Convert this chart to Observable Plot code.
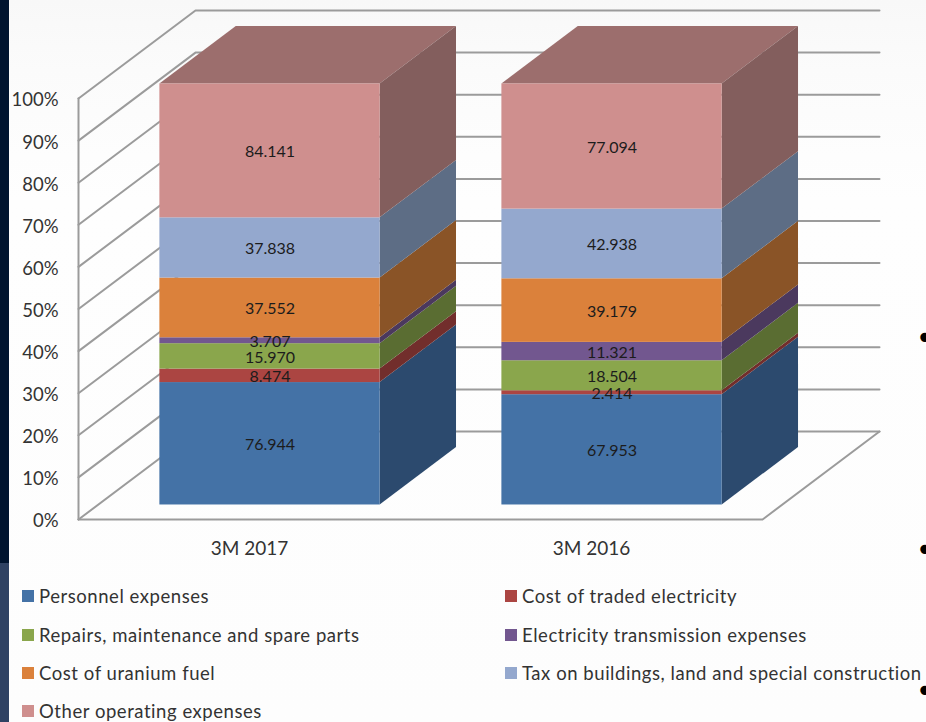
<!DOCTYPE html>
<html>
<head>
<meta charset="utf-8">
<script src="https://cdn.jsdelivr.net/npm/d3@7"></script>
<script src="https://cdn.jsdelivr.net/npm/@observablehq/plot@0.6"></script>
<style>
  html, body { margin: 0; padding: 0; }
  body {
    width: 926px; height: 722px; overflow: hidden; position: relative;
    background: linear-gradient(#f8f8f8 0, #fbfbfb 70px, #fefefe 200px, #fdfdfd 100%);
    font-family: Lato, sans-serif; color: #333;
  }
  #strip { position: absolute; left: 0; top: 0; width: 9px; height: 563px; background: #00142f; }
  #strip2 { position: absolute; left: 0; top: 563px; width: 9px; height: 159px; background: #2f4263; }
  #chart svg { display: block; background: transparent; position: relative; }
  #legend {
    display: grid; grid-template-columns: 483px 421px; grid-auto-rows: 38.4px;
    padding-left: 22px; width: 904px; height: 145px;
    font-size: 18.5px; letter-spacing: 0.55px; white-space: nowrap;
  }
  .item { display: flex; align-items: center; }
  .swatch { width: 12px; height: 12px; margin-right: 5px; flex: none; }
  .bullet { position: absolute; left: 915.5px; height: 8px; font-family: "DejaVu Sans", sans-serif; font-size: 32px; line-height: 8px; color: #000; }
</style>
</head>
<body>
<div id="strip"></div>
<div id="strip2"></div>
<div id="chart"></div>
<div id="legend"></div>
<span class="bullet" style="top:334px">•</span>
<span class="bullet" style="top:546px">•</span>
<span class="bullet" style="top:687px">•</span>
<script>
// Operating expenses by item, first three months of each year
const periods = ["3M 2017", "3M 2016"];
const items = [
  "Personnel expenses",
  "Cost of traded electricity",
  "Repairs, maintenance and spare parts",
  "Electricity transmission expenses",
  "Cost of uranium fuel",
  "Tax on buildings, land and special construction",
  "Other operating expenses"
];
const values2017 = [76.944, 8.474, 15.970, 3.707, 37.552, 37.838, 84.141];
const values2016 = [67.953, 2.414, 18.504, 11.321, 39.179, 42.938, 77.094];
const labels2017 = ["76.944", "8.474", "15.970", "3.707", "37.552", "37.838", "84.141"];
const labels2016 = ["67.953", "2.414", "18.504", "11.321", "39.179", "42.938", "77.094"];
const frontColors = ["#4472a6", "#ab4542", "#8aa64c", "#72578f", "#db813b", "#94a8ce", "#cf8f8e"];
const sideColors = ["#2c4a6e", "#722e2c", "#5a6d32", "#4b395e", "#8a5427", "#5d6d85", "#835e5d"];
const topColor = "#9c6e6d";
const percentTicks = d3.range(0, 101, 10);

// Oblique projection: a point at depth d (0 front wall, 1 back wall) is slid
// along the chart's x (category units) and y (percent) axes.
const depthX = 0.342, depthY = 20.9;
const dx = (x, d) => x + d * depthX;
const dy = (y, d) => y + d * depthY;
const barFront = 0.165, barBack = 0.818, barInset = 0.178, barShift = 0.0035;

const fronts = [], sides = [], tops = [];
[values2017, values2016].forEach((values, b) => {
  const total = d3.sum(values);
  const text = b === 0 ? labels2017 : labels2016;
  const x0 = b + barInset + barShift, x1 = b + 1 - barInset + barShift;
  let run = 0;
  values.forEach((v, i) => {
    const lo = run / total * 100;
    run += v;
    const hi = run / total * 100;
    fronts.push({
      x1: dx(x0, barFront), x2: dx(x1, barFront),
      y1: dy(lo, barFront), y2: dy(hi, barFront),
      color: frontColors[i], label: text[i]
    });
    const key = `${b}-${i}`;
    for (const d of [barFront, barBack]) {
      sides.push({ x: dx(x1, d), y1: dy(lo, d), y2: dy(hi, d), color: sideColors[i], key });
    }
  });
  for (const d of [barFront, barBack]) {
    tops.push({ y: dy(100, d), x1: dx(x0, d), x2: dx(x1, d), key: b });
  }
});

// Wall gridlines run from the front edge back, then across the rear wall
const gridlines = percentTicks.flatMap(t => [
  { x: 0, y: t, t },
  { x: dx(0, 1), y: dy(t, 1), t },
  { x: dx(2, 1), y: dy(t, 1), t }
]);
const floorEdge = [
  { x: 0, y: 0 }, { x: 2, y: 0 }, { x: dx(2, 1), y: dy(0, 1) }
];
const axisEdge = [{ x: 0, y: 0 }, { x: 0, y: 100 }];
const gridStroke = "#9b9b9b";

const chart = Plot.plot({
  width: 926,
  height: 577,
  marginLeft: 78,
  marginRight: 47,
  marginTop: 10,
  marginBottom: 58,
  x: { domain: [0, 2 + depthX] },
  y: { domain: [0, 100 + depthY] },
  style: { fontFamily: "Lato, sans-serif", background: "transparent", overflow: "visible" },
  marks: [
    Plot.line(gridlines, { x: "x", y: "y", z: "t", stroke: gridStroke, strokeWidth: 2 }),
    Plot.line(floorEdge, { x: "x", y: "y", stroke: gridStroke, strokeWidth: 2 }),
    Plot.line(axisEdge, { x: "x", y: "y", stroke: gridStroke, strokeWidth: 2 }),
    Plot.areaX(tops, { y: "y", x1: "x1", x2: "x2", z: "key", fill: topColor }),
    Plot.areaY(sides, { x: "x", y1: "y1", y2: "y2", z: "key", fill: "color" }),
    Plot.rect(fronts, { x1: "x1", x2: "x2", y1: "y1", y2: "y2", fill: "color" }),
    Plot.text(fronts, {
      x: d => (d.x1 + d.x2) / 2, y: d => (d.y1 + d.y2) / 2, text: "label",
      fill: "#1c1c1c", fontSize: 16, dy: 1
    }),
    Plot.axisY({
      ticks: percentTicks, tickFormat: d => d + "%", tickSize: 0, tickPadding: 20,
      fontSize: 18.5, fill: "#333", label: null, dy: 2
    }),
    Plot.axisX({
      ticks: [0.5, 1.5], tickFormat: d => periods[Math.floor(d)], tickSize: 0, tickPadding: 22,
      fontSize: 19, fill: "#333", label: null
    })
  ]
});
document.getElementById("chart").append(chart);

// Legend below the plot: two columns filled left to right
const legend = d3.select("#legend");
items.forEach((name, i) => {
  const row = legend.append("div").attr("class", "item");
  row.append("span").attr("class", "swatch").style("background", frontColors[i]);
  row.append("span").text(name);
});
</script>
</body>
</html>
